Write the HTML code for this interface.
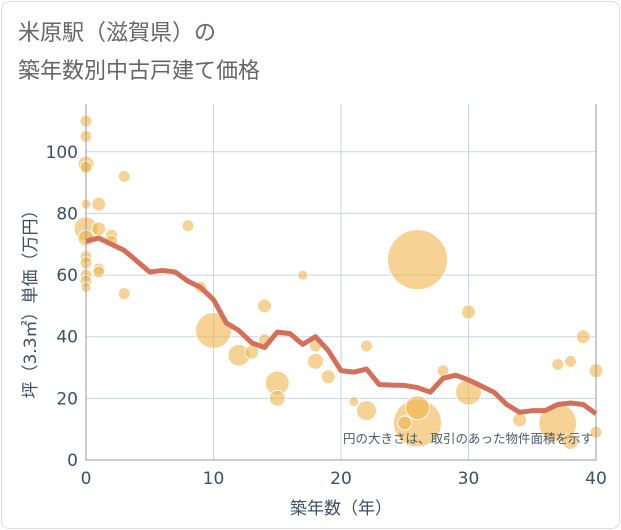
<!DOCTYPE html>
<html><head><meta charset="utf-8"><style>
body{margin:0;background:#fff;font-family:"DejaVu Sans","Noto Sans CJK JP",sans-serif;}
#card{position:absolute;left:1px;top:1px;width:617px;height:526px;border:1px solid #ddd;border-radius:8px;}
</style></head><body>
<div id="card"></div>
<svg id="chart" width="621" height="530" style="position:absolute;left:0;top:0">
<text x="18" y="40" font-size="22" fill="#666" font-family="Noto Sans CJK JP, sans-serif">米原駅（滋賀県）の</text>
<text x="18" y="78" font-size="22" fill="#666" font-family="Noto Sans CJK JP, sans-serif">築年数別中古戸建て価格</text>
<g id="grid"></g><g id="pts"></g><g id="line"></g><g id="axes"></g>
<text x="593" y="443" font-size="12.5" fill="#4a5a6a" text-anchor="end" font-family="Noto Sans CJK JP, sans-serif">円の大きさは、取引のあった物件面積を示す</text>
<text x="341" y="514" font-size="17" fill="#3d4f63" text-anchor="middle" font-family="Noto Sans CJK JP, sans-serif">築年数（年）</text>
<text x="0" y="0" font-size="17" fill="#3d4f63" text-anchor="middle" transform="translate(36,300) rotate(-90)" font-family="DejaVu Sans, Noto Sans CJK JP, sans-serif">坪（3.3㎡）単価（万円）</text>
</svg>
<script>
const xTicks=[0,10,20,30,40];
const yTicks=[0,20,40,60,80,100];
const trendYears=[0,1,2,3,4,5,6,7,8,9,10,11,12,13,14,15,16,17,18,19,20,21,22,23,24,25,26,27,28,29,30,31,32,33,34,35,36,37,38,39,40];
const trendValues=[71,72,70,68,64.5,61,61.5,61,58,56,52,44.5,42,38,36.5,41.5,41,37.5,40,35.5,29,28.5,29.5,24.5,24.3,24.2,23.5,22,26.5,27.5,26,24,22,18,15.5,16,16,18,18.5,18,15];
const ptAge=[0,0,0,0,0,0,0,0,0,0,0,0,1,1,1,1,2,2,3,3,8,9,10,12,13,14,14,15,15,17,18,18,19,21,22,22,26,26,26,25,28,30,30,34,37,38,37,38,39,40,40];
const ptPrice=[110,105,96,95,83,75,72,66,64,60,58,56,83,75,62,61,73,71,92,54,76,56,42,34,35,50,39,25,20,60,37,32,27,19,37,16,65,12,17,12,29,48,22,13,31,32,12,6,40,29,9];
const ptArea=[6,6,8,6,5,12,8,6,6,6,6,5,7,7,6,6,6,6,6,6,6,6,18,11,7,7,6,12,8,5,6,8,7,5,6,10,30,24,12,7,6,7,13,7,6,6,19,8,7,7,6];
const L=86,R=596,T=104,B=460;
const xs=v=>L+(v/40)*(R-L);
const ys=v=>B-(v/115.5)*(B-T);
const NS="http://www.w3.org/2000/svg";
function mk(tag,parent,attrs){const e=document.createElementNS(NS,tag);for(const k in attrs)e.setAttribute(k,attrs[k]);document.getElementById(parent).appendChild(e);return e;}
xTicks.forEach(t=>{
 const g=mk('line','grid',{x1:xs(t),x2:xs(t),y1:T,y2:B,stroke:'#c8d4e2','stroke-width':1});
 
 
 const tx=mk('text','axes',{x:xs(t),y:B+24,'font-size':17,fill:'#3d4f63','text-anchor':'middle','font-family':'DejaVu Sans, sans-serif'});
 tx.textContent=t;
 
 
});
yTicks.forEach(t=>{
 const g=mk('line','grid',{x1:L,x2:R,y1:ys(t),y2:ys(t),stroke:'#c8d4e2','stroke-width':1});
 
 
 const tx=mk('text','axes',{x:L-8,y:ys(t)+6,'font-size':17,fill:'#3d4f63','text-anchor':'end','font-family':'DejaVu Sans, sans-serif'});
 tx.textContent=t;
 
 
});
const fr=mk('path','axes',{d:`M${L},${T}V${B}H${R}V${T}`,fill:'none',stroke:'#999','stroke-width':1});


ptAge.forEach((a,i)=>{
 const c=mk('circle','pts',{cx:xs(a),cy:ys(ptPrice[i]),r:ptArea[i],fill:'#f0b44c','fill-opacity':0.6,stroke:'#fff','stroke-width':1});
 
 
});
const d=trendYears.map((y,i)=>(i?'L':'M')+xs(y)+','+ys(trendValues[i])).join('');
const p=mk('path','line',{d:d,fill:'none',stroke:'#d4705a','stroke-width':5,'stroke-linejoin':'round'});


</script>
</body></html>
